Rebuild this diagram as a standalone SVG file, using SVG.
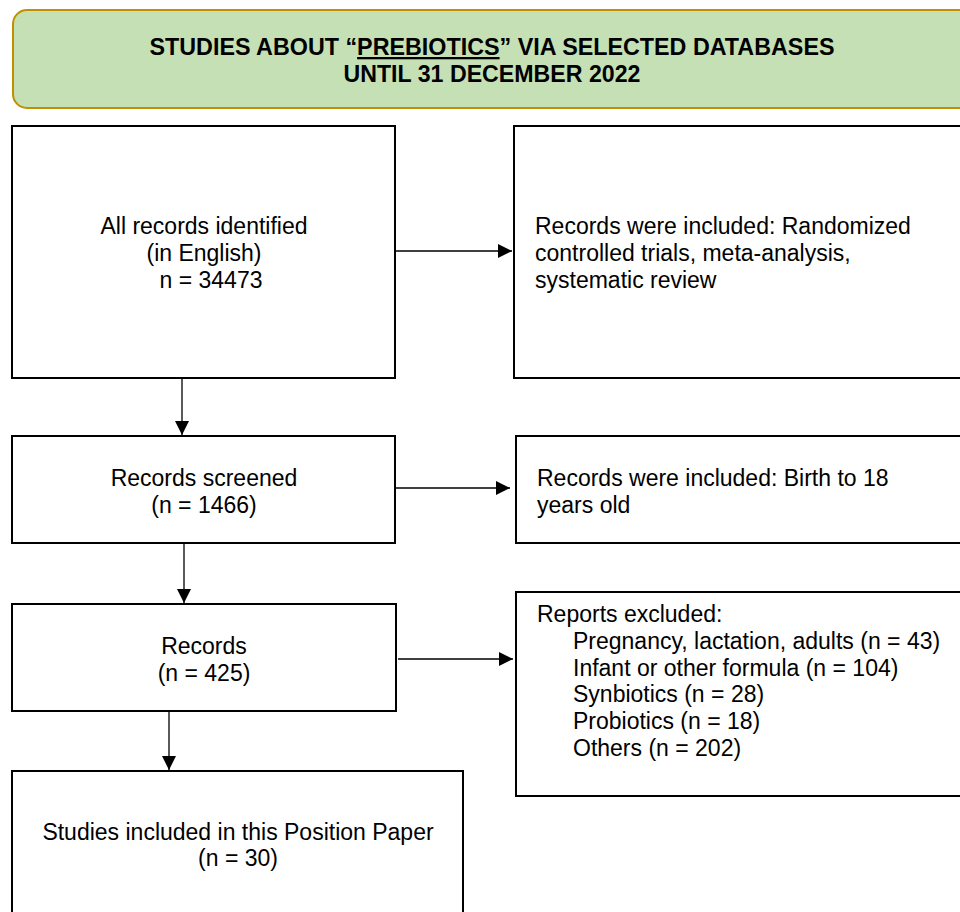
<svg xmlns="http://www.w3.org/2000/svg" width="960" height="912" viewBox="0 0 960 912">
<defs>
<style>
.box{fill:#fff;stroke:#000;stroke-width:2}
.t{font-family:"Liberation Sans",Arial,sans-serif;font-size:23px;fill:#000}
.c{text-anchor:middle}
.h{font-family:"Liberation Sans Narrow","Liberation Sans",Arial,sans-serif;font-weight:bold;font-size:23px;fill:#000;text-anchor:middle}
.ln{stroke:#000;stroke-width:1.3;fill:none}
</style>
<marker id="ah" viewBox="0 0 10 10" refX="10" refY="5" markerWidth="14" markerHeight="14" markerUnits="userSpaceOnUse" orient="auto">
<path d="M0,0 L10,5 L0,10 Z" fill="#000"/>
</marker>
</defs>
<rect width="960" height="912" fill="#fff"/>
<g id="header">
<rect x="13" y="10" width="970" height="98" rx="14" fill="#c5e0b4" stroke="#bf9000" stroke-width="2"/>
<text class="h" x="492" y="55" textLength="685" lengthAdjust="spacingAndGlyphs">STUDIES ABOUT “<tspan text-decoration="underline">PREBIOTICS</tspan>” VIA SELECTED DATABASES</text>
<text class="h" x="492" y="82" textLength="297" lengthAdjust="spacingAndGlyphs">UNTIL 31 DECEMBER 2022</text>
</g>
<g id="identified">
<rect class="box" x="12" y="126" width="383" height="252"/>
<text class="t c" x="204" y="234">All records identified</text>
<text class="t c" x="204" y="261">(in English)</text>
<text class="t c" x="211" y="288">n = 34473</text>
</g>
<g id="included1">
<rect class="box" x="514" y="126" width="470" height="252"/>
<text class="t" x="535" y="234">Records were included: Randomized</text>
<text class="t" x="535" y="261">controlled trials, meta-analysis,</text>
<text class="t" x="535" y="288">systematic review</text>
</g>
<g id="screened">
<rect class="box" x="12" y="436" width="383" height="107"/>
<text class="t c" x="204" y="486">Records screened</text>
<text class="t c" x="204" y="513">(n = 1466)</text>
</g>
<g id="included2">
<rect class="box" x="516" y="436" width="470" height="107"/>
<text class="t" x="537" y="486">Records were included: Birth to 18</text>
<text class="t" x="537" y="513">years old</text>
</g>
<g id="records">
<rect class="box" x="12" y="604" width="384" height="107"/>
<text class="t c" x="204" y="654">Records</text>
<text class="t c" x="204" y="681">(n = 425)</text>
</g>
<g id="excluded">
<rect class="box" x="516" y="592" width="470" height="204"/>
<text class="t" x="537" y="622">Reports excluded:</text>
<text class="t" x="573" y="649">Pregnancy, lactation, adults (n = 43)</text>
<text class="t" x="573" y="676">Infant or other formula (n = 104)</text>
<text class="t" x="573" y="702">Synbiotics (n = 28)</text>
<text class="t" x="573" y="729">Probiotics (n = 18)</text>
<text class="t" x="573" y="756">Others (n = 202)</text>
</g>
<g id="final">
<rect class="box" x="12" y="771" width="451" height="160"/>
<text class="t c" x="238" y="840">Studies included in this Position Paper</text>
<text class="t c" x="238" y="866">(n = 30)</text>
</g>
<g id="connectors">
<line class="ln" x1="395" y1="251" x2="512" y2="251" marker-end="url(#ah)"/>
<line class="ln" x1="182" y1="378" x2="182" y2="435" marker-end="url(#ah)"/>
<line class="ln" x1="395" y1="488" x2="510" y2="488" marker-end="url(#ah)"/>
<line class="ln" x1="184" y1="543" x2="184" y2="603" marker-end="url(#ah)"/>
<line class="ln" x1="398" y1="659" x2="513" y2="659" marker-end="url(#ah)"/>
<line class="ln" x1="169" y1="711" x2="169" y2="770" marker-end="url(#ah)"/>
</g>
</svg>
